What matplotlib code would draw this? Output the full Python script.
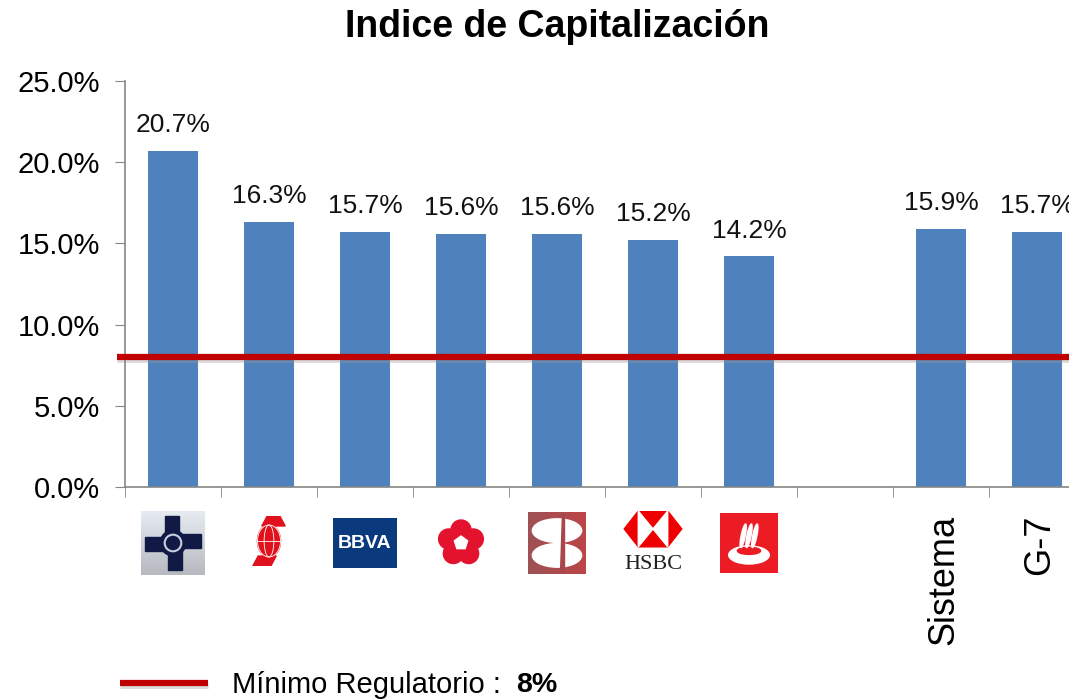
import numpy as np
import matplotlib
matplotlib.use("Agg")
import matplotlib.pyplot as plt
from matplotlib import patches, transforms

plt.rcParams['font.family'] = ['Liberation Sans', 'DejaVu Sans']

# data
categories = ["Banamex", "Scotiabank", "BBVA", "Inbursa", "Banorte", "HSBC", "Santander", "", "Sistema", "G-7"]
values = [20.7, 16.3, 15.7, 15.6, 15.6, 15.2, 14.2, None, 15.9, 15.7]
minimo = 8.0
y_ticks = [0, 5, 10, 15, 20, 25]

BAR = "#4F81BD"
RED = "#C00000"
W, H = 1069, 699

fig = plt.figure(figsize=(W / 100, H / 100), dpi=100)
ax = fig.add_axes([125 / W, 212 / H, 960 / W, 406 / H])

xs = [i for i, v in enumerate(values) if v is not None]
vs = [v for v in values if v is not None]
bars = ax.bar(xs, vs, width=0.53, color=BAR, zorder=2)
for x, v in zip(xs, vs):
    ax.text(x, v + 0.85, f"{v:.1f}%", ha="center", va="bottom", fontsize=19, color="#111111")

# minimum regulatory line with a soft shadow
ax.plot([-0.58, 10], [minimo - 0.12, minimo - 0.12], color="#999999", lw=5, alpha=0.35,
        clip_on=False, zorder=2.5, solid_capstyle="butt")
ax.plot([-0.58, 10], [minimo, minimo], color=RED, lw=4.5, clip_on=False, zorder=3,
        solid_capstyle="butt")

ax.set_xlim(-0.5, 9.5)
ax.set_ylim(0, 25)
ax.set_yticks(y_ticks)
ax.set_yticklabels([f"{t:.1f}%" for t in y_ticks], fontsize=21)
ax.set_xticks([])
ax.set_xticks(np.arange(-0.5, 10, 1), minor=True)
ax.tick_params(axis="x", which="minor", direction="out", length=7, color="#868686", labelbottom=False)
ax.tick_params(axis="y", direction="out", length=7, color="#868686", pad=11)
for s in ["top", "right"]:
    ax.spines[s].set_visible(False)
for s in ["left", "bottom"]:
    ax.spines[s].set_color("#868686")
    ax.spines[s].set_linewidth(1.2)

# text labels for the aggregate categories
trans = transforms.blended_transform_factory(ax.transData, ax.transAxes)
for i, name in enumerate(categories):
    if name in ("Sistema", "G-7"):
        ax.text(i + 0.03, -0.068, name, transform=trans, rotation=90, ha="center", va="top", fontsize=26)

fig.text(557 / W, 1 - 27 / H, "Indice de Capitalización", ha="center", va="center",
         fontsize=27, fontweight="bold")


# rough logo drawings for the banks
def logo_ax(i, w, h, yc=543):
    xc = 125 + (i + 0.5) * 96
    a = fig.add_axes([(xc - w / 2) / W, 1 - (yc + h / 2) / H, w / W, h / H])
    a.set_xlim(0, 1)
    a.set_ylim(0, 1)
    a.axis("off")
    return a


a = logo_ax(0, 64, 64)
grad = np.linspace(0.95, 0.75, 64).reshape(-1, 1) * np.ones((64, 64))
a.imshow(np.dstack([grad * 0.95, grad * 0.97, grad]), extent=[0, 1, 0, 1], aspect="auto")
navy = "#101a45"
a.add_patch(patches.Rectangle((0.38, 0.62), 0.22, 0.3, color=navy))
a.add_patch(patches.Rectangle((0.42, 0.08), 0.22, 0.3, color=navy))
a.add_patch(patches.Rectangle((0.06, 0.38), 0.3, 0.22, color=navy))
a.add_patch(patches.Rectangle((0.64, 0.42), 0.3, 0.22, color=navy))
a.add_patch(patches.Circle((0.5, 0.5), 0.2, color=navy))
a.add_patch(patches.Circle((0.5, 0.5), 0.13, fill=False, ec="#c9d0dd", lw=1.5))

a = logo_ax(1, 36, 50, 541)
red_s = "#e0101c"
a.add_patch(patches.Polygon([[0.3, 0.8], [0.95, 0.8], [0.8, 1.0], [0.45, 1.0]], color=red_s))
a.add_patch(patches.Polygon([[0.05, 0.0], [0.55, 0.0], [0.7, 0.2], [0.2, 0.2]], color=red_s))
a.add_patch(patches.Circle((0.5, 0.5), 0.32, color=red_s))
a.add_patch(patches.Circle((0.5, 0.5), 0.32, fill=False, ec="white", lw=0.6))
a.plot([0.18, 0.82], [0.5, 0.5], color="white", lw=0.6)
a.add_patch(patches.Ellipse((0.5, 0.5), 0.27, 0.64, fill=False, ec="white", lw=0.6))

a = logo_ax(2, 64, 50)
a.add_patch(patches.Rectangle((0, 0), 1, 1, color="#0a3a7d"))
a.text(0.5, 0.48, "BBVA", color="white", fontsize=14, fontweight="bold", ha="center", va="center")

a = logo_ax(3, 50, 50)
red_f = "#e3122d"
for k in range(5):
    ang = np.pi / 2 + k * 2 * np.pi / 5
    a.add_patch(patches.Circle((0.5 + 0.26 * np.cos(ang), 0.5 + 0.26 * np.sin(ang)), 0.2, color=red_f))
a.add_patch(patches.RegularPolygon((0.5, 0.5), 5, radius=0.14, color="white"))

a = logo_ax(4, 58, 62)
grad = np.linspace(0.0, 1.0, 64).reshape(1, -1) * np.ones((64, 64))
col = np.dstack([0.62 + 0.12 * grad, 0.32 - 0.05 * grad, 0.33 - 0.05 * grad])
a.imshow(col, extent=[0, 1, 0, 1], aspect="auto")
a.add_patch(patches.Ellipse((0.5, 0.7), 0.85, 0.38, color="white"))
a.add_patch(patches.Ellipse((0.5, 0.3), 0.85, 0.38, color="white"))
a.add_patch(patches.Polygon([[0.55, 0.02], [0.62, 0.02], [0.62, 0.98], [0.58, 0.98]], color="#a9464c"))

a = logo_ax(5, 64, 64)
hx = [[0.05, 0.72], [0.27, 1.0], [0.73, 1.0], [0.95, 0.72], [0.73, 0.44], [0.27, 0.44]]
a.add_patch(patches.Polygon(hx, color="#ee0000"))
a.add_patch(patches.Polygon([[0.27, 1.0], [0.27, 0.44], [0.5, 0.72]], color="white"))
a.add_patch(patches.Polygon([[0.73, 1.0], [0.73, 0.44], [0.5, 0.72]], color="white"))
a.text(0.5, 0.17, "HSBC", family="Liberation Serif", fontsize=16, ha="center", va="center",
       color="#222222")

a = logo_ax(6, 58, 60)
a.add_patch(patches.Rectangle((0, 0), 1, 1, color="#ec1c24"))
a.add_patch(patches.Ellipse((0.5, 0.3), 0.7, 0.3, color="white"))
a.add_patch(patches.Ellipse((0.5, 0.37), 0.4, 0.12, color="#ec1c24"))
for dx in (-0.1, 0.0, 0.1):
    a.add_patch(patches.Ellipse((0.5 + dx, 0.62), 0.07, 0.4, angle=-12, color="white"))

# legend at the bottom
fig.add_artist(plt.Line2D([120 / W, 208 / W], [1 - 685 / H, 1 - 685 / H], color="#999999",
                          lw=5, alpha=0.35, solid_capstyle="butt"))
fig.add_artist(plt.Line2D([120 / W, 208 / W], [1 - 683 / H, 1 - 683 / H], color=RED,
                          lw=4.5, solid_capstyle="butt"))
fig.text(232 / W, 1 - 685 / H, "Mínimo Regulatorio :", fontsize=21, va="center")
fig.text(516 / W, 1 - 685 / H, "8%", fontsize=20.5, fontweight="bold", va="center")

fig.savefig("out.png", dpi=100)
